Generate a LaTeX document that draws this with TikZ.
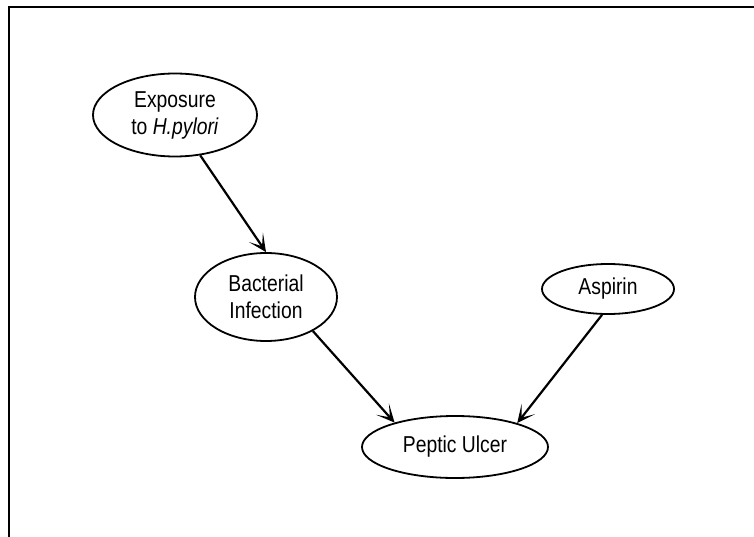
\documentclass[tikz,border=0pt]{standalone}
\usepackage{fontspec}
\setmainfont{Liberation Sans}[FakeStretch=0.84]
\usetikzlibrary{arrows.meta,shapes.geometric}
\begin{document}
\begin{tikzpicture}[x=1pt,y=-1pt,
  evt/.style={draw,ellipse,line width=1.8pt,inner sep=0pt,align=center,
    font=\fontsize{23}{27}\selectfont},
  causal/.style={line width=2.2pt,-{Stealth[length=18pt,width=17pt,inset=11pt]}},
  frameline/.style={line width=2.2pt,line join=miter}]
\useasboundingbox (0,0) rectangle (754,537);
\draw[frameline] (754,7) -- (9,7) -- (9,537);
\node[evt,minimum width=164pt,minimum height=83pt] (exp) at (175,115) {Exposure\\to \textit{H.pylori}};
\node[evt,minimum width=142pt,minimum height=88pt] (bac) at (266,297) {Bacterial\\Infection};
\node[evt,minimum width=132pt,minimum height=50pt] (asp) at (608,289) {Aspirin};
\node[evt,minimum width=186pt,minimum height=62pt] (pep) at (455,447) {Peptic Ulcer};
\draw[causal] (exp.-58) -- (bac.north);
\draw[causal] (bac.-36) -- (pep.158);
\draw[causal] (asp.-103) -- (pep.21);
\end{tikzpicture}
\end{document}
